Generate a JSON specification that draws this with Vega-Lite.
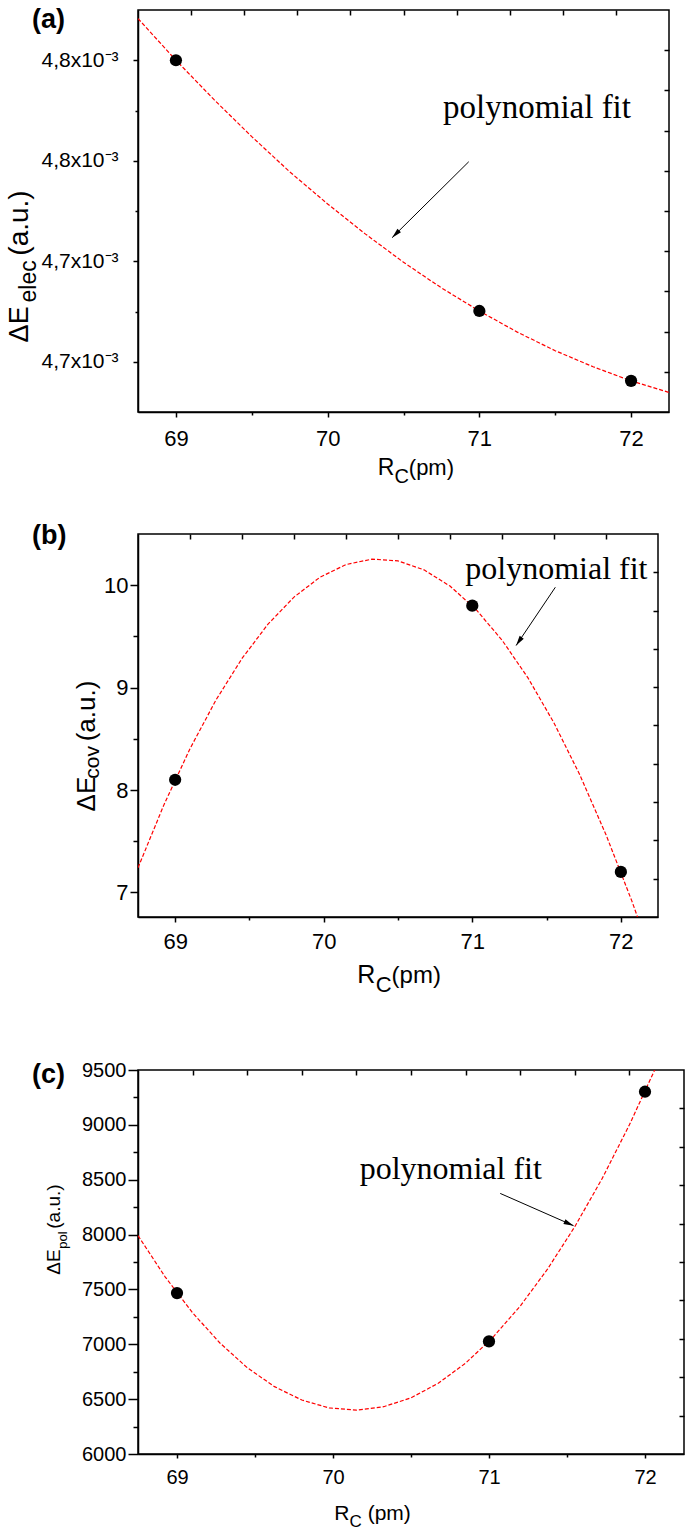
{
  "$schema": "https://vega.github.io/schema/vega-lite/v6.json",
  "background": "white",
  "padding": {"left": 5, "top": 5, "right": 0, "bottom": 0},
  "spacing": 33,
  "config": {
    "font": "Liberation Sans",
    "view": {"stroke": "black", "strokeWidth": 1.5},
    "axis": {"grid": false, "domainColor": "black", "domainWidth": 1.5, "tickColor": "black", "tickWidth": 1.5, "labelFont": "Liberation Sans", "labelColor": "black"}
  },
  "datasets": {
    "a_pts": [{"Rc": 69, "dE": 0.00478}, {"Rc": 71, "dE": 0.0047301}, {"Rc": 72, "dE": 0.0047162}],
    "a_fit": [
      {"Rc": 68.75, "dE": 0.0047883}, {"Rc": 69.0, "dE": 0.00478}, {"Rc": 69.25, "dE": 0.0047722},
      {"Rc": 69.5, "dE": 0.0047648}, {"Rc": 69.75, "dE": 0.0047578}, {"Rc": 70.0, "dE": 0.0047514},
      {"Rc": 70.25, "dE": 0.0047454}, {"Rc": 70.5, "dE": 0.0047398}, {"Rc": 70.75, "dE": 0.0047347},
      {"Rc": 71.0, "dE": 0.0047301}, {"Rc": 71.25, "dE": 0.0047259}, {"Rc": 71.5, "dE": 0.0047222},
      {"Rc": 71.75, "dE": 0.004719}, {"Rc": 72.0, "dE": 0.0047162}, {"Rc": 72.25, "dE": 0.0047139}
    ],
    "a_note": [{"Rc": 71.38, "dE": 0.0047685, "label": "polynomial fit"}],
    "a_arrow": [{"Rc": 70.93, "dE": 0.0047598, "Rc_tip": 70.425, "dE_tip": 0.0047447}],
    "b_pts": [{"Rc": 69, "dE": 8.1}, {"Rc": 71, "dE": 9.8}, {"Rc": 72, "dE": 7.2}],
    "b_fit": [
      {"Rc": 68.75, "dE": 7.2406}, {"Rc": 68.925, "dE": 7.8573}, {"Rc": 69.1, "dE": 8.4035},
      {"Rc": 69.275, "dE": 8.8793}, {"Rc": 69.45, "dE": 9.2846}, {"Rc": 69.625, "dE": 9.6195},
      {"Rc": 69.8, "dE": 9.884}, {"Rc": 69.975, "dE": 10.078}, {"Rc": 70.15, "dE": 10.2016},
      {"Rc": 70.325, "dE": 10.2548}, {"Rc": 70.5, "dE": 10.2375}, {"Rc": 70.675, "dE": 10.1498},
      {"Rc": 70.85, "dE": 9.9916}, {"Rc": 71.025, "dE": 9.763}, {"Rc": 71.2, "dE": 9.464},
      {"Rc": 71.375, "dE": 9.0945}, {"Rc": 71.55, "dE": 8.6546}, {"Rc": 71.725, "dE": 8.1443},
      {"Rc": 71.9, "dE": 7.5635}, {"Rc": 72.075, "dE": 6.9123}, {"Rc": 72.25, "dE": 6.19}
    ],
    "b_note": [{"Rc": 71.566, "dE": 10.056, "label": "polynomial fit"}],
    "b_arrow": [{"Rc": 71.559, "dE": 9.98, "Rc_tip": 71.295, "dE_tip": 9.411}],
    "c_pts": [{"Rc": 69, "dE": 7467}, {"Rc": 71, "dE": 7026}, {"Rc": 72, "dE": 9302}],
    "c_fit": [
      {"Rc": 68.75, "dE": 7990}, {"Rc": 68.925, "dE": 7613}, {"Rc": 69.1, "dE": 7287},
      {"Rc": 69.275, "dE": 7012}, {"Rc": 69.45, "dE": 6787}, {"Rc": 69.625, "dE": 6614},
      {"Rc": 69.8, "dE": 6492}, {"Rc": 69.975, "dE": 6420}, {"Rc": 70.15, "dE": 6400},
      {"Rc": 70.325, "dE": 6431}, {"Rc": 70.5, "dE": 6512}, {"Rc": 70.675, "dE": 6645},
      {"Rc": 70.85, "dE": 6828}, {"Rc": 71.025, "dE": 7063}, {"Rc": 71.2, "dE": 7348},
      {"Rc": 71.375, "dE": 7685}, {"Rc": 71.55, "dE": 8072}, {"Rc": 71.725, "dE": 8510},
      {"Rc": 71.9, "dE": 9000}, {"Rc": 72.075, "dE": 9540}
    ],
    "c_note": [{"Rc": 70.755, "dE": 8506, "label": "polynomial fit"}],
    "c_arrow": [{"Rc": 71.072, "dE": 8375, "Rc_tip": 71.542, "dE_tip": 8081}]
  },
  "vconcat": [
    {
      "width": 531,
      "height": 402,
      "resolve": {"axis": {"x": "independent", "y": "independent"}},
      "layer": [
        {
          "data": {"name": "a_fit"},
          "mark": {"type": "line", "color": "#ff0000", "strokeWidth": 1.2, "strokeDash": [4, 2], "clip": true},
          "encoding": {
            "x": {"field": "Rc", "type": "quantitative", "scale": {"domain": [68.75, 72.25], "nice": false, "zero": false},
              "axis": {"orient": "bottom", "title": null, "values": [69, 69.5, 70, 70.5, 71, 71.5, 72], "labelExpr": "datum.value % 1 == 0 ? format(datum.value, 'd') : ''", "labelFontSize": 22, "labelPadding": 11, "labelFlush": false, "labelOverlap": false, "tickSize": {"condition": {"test": "datum.value % 1 == 0", "value": 5}, "value": 3}}},
            "y": {"field": "dE", "type": "quantitative", "scale": {"domain": [0.00471, 0.00479], "nice": false, "zero": false},
              "axis": {"orient": "left", "title": null, "values": [0.00472, 0.00473, 0.00474, 0.00475, 0.00476, 0.00477, 0.00478], "labelExpr": "round(datum.value*100000) % 2 == 0 ? replace(format(datum.value*1000, '.1f'), '.', ',') + 'x10⁻³' : ''", "labelFontSize": 21, "labelPadding": 15, "labelFlush": false, "labelOverlap": false, "tickSize": {"condition": {"test": "round(datum.value*100000) % 2 == 0", "value": 5}, "value": 3}}}
          }
        },
        {
          "data": {"name": "a_pts"},
          "mark": {"type": "point", "filled": true, "color": "black", "opacity": 1, "size": 150},
          "encoding": {
            "x": {"field": "Rc", "type": "quantitative", "axis": {"orient": "top", "title": null, "labels": false, "domain": false, "offset": -5, "tickSize": 5, "values": [69.1, 69.45, 69.8, 70.15, 70.5, 70.85, 71.2, 71.55, 71.9]}},
            "y": {"field": "dE", "type": "quantitative", "axis": {"orient": "right", "title": null, "labels": false, "domain": false, "offset": -5, "tickSize": 5, "values": [0.004718, 0.004726, 0.004734, 0.004742, 0.00475, 0.004758, 0.004766, 0.004774, 0.004782]}}
          }
        },
        {
          "data": {"name": "a_arrow"},
          "mark": {"type": "rule", "color": "black", "strokeWidth": 1},
          "encoding": {"x": {"field": "Rc", "type": "quantitative", "axis": null}, "y": {"field": "dE", "type": "quantitative", "axis": null}, "x2": {"field": "Rc_tip"}, "y2": {"field": "dE_tip"}}
        },
        {
          "data": {"name": "a_arrow"},
          "mark": {"type": "point", "shape": "M0,0L-0.25,1L0.25,1Z", "filled": true, "color": "black", "opacity": 1, "size": 400, "angle": 225},
          "encoding": {"x": {"field": "Rc_tip", "type": "quantitative", "axis": null}, "y": {"field": "dE_tip", "type": "quantitative", "axis": null}}
        },
        {
          "data": {"name": "a_note"},
          "mark": {"type": "text", "font": "Liberation Serif", "fontSize": 33, "align": "center", "baseline": "alphabetic", "color": "black"},
          "encoding": {"x": {"field": "Rc", "type": "quantitative", "axis": null}, "y": {"field": "dE", "type": "quantitative", "axis": null}, "text": {"field": "label"}}
        },
        {
          "data": {"values": [{"t": "(a)"}]},
          "mark": {"type": "text", "fontWeight": "bold", "fontSize": 27, "align": "left", "baseline": "alphabetic", "dx": -106, "dy": 18, "color": "black"},
          "encoding": {"x": {"datum": 68.75, "type": "quantitative", "axis": null}, "y": {"datum": 0.00479, "type": "quantitative", "axis": null}, "text": {"field": "t"}}
        },
        {
          "data": {"values": [{"t": "R"}]},
          "mark": {"type": "text", "fontSize": 23, "align": "left", "baseline": "alphabetic", "dy": 63, "color": "black"},
          "encoding": {"x": {"datum": 70.33, "type": "quantitative", "axis": null}, "y": {"datum": 0.00471, "type": "quantitative", "axis": null}, "text": {"field": "t"}}
        },
        {
          "data": {"values": [{"t": "C"}]},
          "mark": {"type": "text", "fontSize": 20, "align": "left", "baseline": "alphabetic", "dy": 71, "color": "black"},
          "encoding": {"x": {"datum": 70.44, "type": "quantitative", "axis": null}, "y": {"datum": 0.00471, "type": "quantitative", "axis": null}, "text": {"field": "t"}}
        },
        {
          "data": {"values": [{"t": "(pm)"}]},
          "mark": {"type": "text", "fontSize": 22, "align": "left", "baseline": "alphabetic", "dy": 63, "color": "black"},
          "encoding": {"x": {"datum": 70.535, "type": "quantitative", "axis": null}, "y": {"datum": 0.00471, "type": "quantitative", "axis": null}, "text": {"field": "t"}}
        },
        {
          "data": {"values": [{"t": "ΔE"}]},
          "mark": {"type": "text", "fontSize": 27, "angle": 270, "align": "left", "baseline": "alphabetic", "dy": -110, "color": "black"},
          "encoding": {"x": {"datum": 68.75, "type": "quantitative", "axis": null}, "y": {"datum": 0.00472385, "type": "quantitative", "axis": null}, "text": {"field": "t"}}
        },
        {
          "data": {"values": [{"t": "elec"}]},
          "mark": {"type": "text", "fontSize": 23, "angle": 270, "align": "left", "baseline": "alphabetic", "dy": -102, "color": "black"},
          "encoding": {"x": {"datum": 68.75, "type": "quantitative", "axis": null}, "y": {"datum": 0.00473179, "type": "quantitative", "axis": null}, "text": {"field": "t"}}
        },
        {
          "data": {"values": [{"t": "(a.u.)"}]},
          "mark": {"type": "text", "fontSize": 28, "angle": 270, "align": "left", "baseline": "alphabetic", "dy": -110, "color": "black"},
          "encoding": {"x": {"datum": 68.75, "type": "quantitative", "axis": null}, "y": {"datum": 0.00474111, "type": "quantitative", "axis": null}, "text": {"field": "t"}}
        }
      ]
    },
    {
      "spacing": 62,
      "vconcat": [
        {
          "width": 520,
          "height": 383,
          "resolve": {"axis": {"x": "independent", "y": "independent"}},
          "layer": [
            {
              "data": {"name": "b_fit"},
              "mark": {"type": "line", "color": "#ff0000", "strokeWidth": 1.2, "strokeDash": [4, 2], "clip": true},
              "encoding": {
                "x": {"field": "Rc", "type": "quantitative", "scale": {"domain": [68.75, 72.25], "nice": false, "zero": false},
                  "axis": {"orient": "bottom", "title": null, "values": [69, 69.5, 70, 70.5, 71, 71.5, 72], "labelExpr": "datum.value % 1 == 0 ? format(datum.value, 'd') : ''", "labelFontSize": 22, "labelPadding": 9, "labelFlush": false, "labelOverlap": false, "tickSize": {"condition": {"test": "datum.value % 1 == 0", "value": 5}, "value": 3}}},
                "y": {"field": "dE", "type": "quantitative", "scale": {"domain": [6.76, 10.5], "nice": false, "zero": false},
                  "axis": {"orient": "left", "title": null, "values": [7, 7.5, 8, 8.5, 9, 9.5, 10], "labelExpr": "datum.value % 1 == 0 ? format(datum.value, 'd') : ''", "labelFontSize": 22, "labelPadding": 2, "labelFlush": false, "labelOverlap": false, "tickSize": {"condition": {"test": "datum.value % 1 == 0", "value": 8}, "value": 5}}}
              }
            },
            {
              "data": {"name": "b_pts"},
              "mark": {"type": "point", "filled": true, "color": "black", "opacity": 1, "size": 150},
              "encoding": {
                "x": {"field": "Rc", "type": "quantitative", "axis": {"orient": "top", "title": null, "labels": false, "domain": false, "offset": -5, "tickSize": 5, "values": [69.1, 69.45, 69.8, 70.15, 70.5, 70.85, 71.2, 71.55, 71.9]}},
                "y": {"field": "dE", "type": "quantitative", "axis": {"orient": "right", "title": null, "labels": false, "domain": false, "offset": -5, "tickSize": 5, "values": [7.134, 7.508, 7.882, 8.256, 8.63, 9.004, 9.378, 9.752, 10.126]}}
              }
            },
            {
              "data": {"name": "b_arrow"},
              "mark": {"type": "rule", "color": "black", "strokeWidth": 1},
              "encoding": {"x": {"field": "Rc", "type": "quantitative", "axis": null}, "y": {"field": "dE", "type": "quantitative", "axis": null}, "x2": {"field": "Rc_tip"}, "y2": {"field": "dE_tip"}}
            },
            {
              "data": {"name": "b_arrow"},
              "mark": {"type": "point", "shape": "M0,0L-0.25,1L0.25,1Z", "filled": true, "color": "black", "opacity": 1, "size": 400, "angle": 214},
              "encoding": {"x": {"field": "Rc_tip", "type": "quantitative", "axis": null}, "y": {"field": "dE_tip", "type": "quantitative", "axis": null}}
            },
            {
              "data": {"name": "b_note"},
              "mark": {"type": "text", "font": "Liberation Serif", "fontSize": 32, "align": "center", "baseline": "alphabetic", "color": "black"},
              "encoding": {"x": {"field": "Rc", "type": "quantitative", "axis": null}, "y": {"field": "dE", "type": "quantitative", "axis": null}, "text": {"field": "label"}}
            },
            {
              "data": {"values": [{"t": "(b)"}]},
              "mark": {"type": "text", "fontWeight": "bold", "fontSize": 27, "align": "left", "baseline": "alphabetic", "dx": -106, "dy": 10, "color": "black"},
              "encoding": {"x": {"datum": 68.75, "type": "quantitative", "axis": null}, "y": {"datum": 10.5, "type": "quantitative", "axis": null}, "text": {"field": "t"}}
            },
            {
              "data": {"values": [{"t": "R"}]},
              "mark": {"type": "text", "fontSize": 25, "align": "left", "baseline": "alphabetic", "dy": 66, "color": "black"},
              "encoding": {"x": {"datum": 70.225, "type": "quantitative", "axis": null}, "y": {"datum": 6.76, "type": "quantitative", "axis": null}, "text": {"field": "t"}}
            },
            {
              "data": {"values": [{"t": "C"}]},
              "mark": {"type": "text", "fontSize": 22, "align": "left", "baseline": "alphabetic", "dy": 75, "color": "black"},
              "encoding": {"x": {"datum": 70.35, "type": "quantitative", "axis": null}, "y": {"datum": 6.76, "type": "quantitative", "axis": null}, "text": {"field": "t"}}
            },
            {
              "data": {"values": [{"t": "(pm)"}]},
              "mark": {"type": "text", "fontSize": 24, "align": "left", "baseline": "alphabetic", "dy": 66, "color": "black"},
              "encoding": {"x": {"datum": 70.457, "type": "quantitative", "axis": null}, "y": {"datum": 6.76, "type": "quantitative", "axis": null}, "text": {"field": "t"}}
            },
            {
              "data": {"values": [{"t": "ΔE"}]},
              "mark": {"type": "text", "fontSize": 26, "angle": 270, "align": "left", "baseline": "alphabetic", "dy": -43, "color": "black"},
              "encoding": {"x": {"datum": 68.75, "type": "quantitative", "axis": null}, "y": {"datum": 7.791, "type": "quantitative", "axis": null}, "text": {"field": "t"}}
            },
            {
              "data": {"values": [{"t": "cov"}]},
              "mark": {"type": "text", "fontSize": 21, "angle": 270, "align": "left", "baseline": "alphabetic", "dy": -39, "color": "black"},
              "encoding": {"x": {"datum": 68.75, "type": "quantitative", "axis": null}, "y": {"datum": 8.11, "type": "quantitative", "axis": null}, "text": {"field": "t"}}
            },
            {
              "data": {"values": [{"t": "(a.u.)"}]},
              "mark": {"type": "text", "fontSize": 26, "angle": 270, "align": "left", "baseline": "alphabetic", "dy": -43, "color": "black"},
              "encoding": {"x": {"datum": 68.75, "type": "quantitative", "axis": null}, "y": {"datum": 8.475, "type": "quantitative", "axis": null}, "text": {"field": "t"}}
            }
          ]
        },
        {
          "width": 546,
          "height": 384,
          "resolve": {"axis": {"x": "independent", "y": "independent"}},
          "layer": [
            {
              "data": {"name": "c_fit"},
              "mark": {"type": "line", "color": "#ff0000", "strokeWidth": 1.2, "strokeDash": [4, 2], "clip": true},
              "encoding": {
                "x": {"field": "Rc", "type": "quantitative", "scale": {"domain": [68.75, 72.25], "nice": false, "zero": false},
                  "axis": {"orient": "bottom", "title": null, "values": [69, 69.5, 70, 70.5, 71, 71.5, 72], "labelExpr": "datum.value % 1 == 0 ? format(datum.value, 'd') : ''", "labelFontSize": 20, "labelPadding": 9, "labelFlush": false, "labelOverlap": false, "tickSize": {"condition": {"test": "datum.value % 1 == 0", "value": 4}, "value": 3}}},
                "y": {"field": "dE", "type": "quantitative", "scale": {"domain": [6000, 9500], "nice": false, "zero": false},
                  "axis": {"orient": "left", "title": null, "values": [6000, 6250, 6500, 6750, 7000, 7250, 7500, 7750, 8000, 8250, 8500, 8750, 9000, 9250, 9500], "labelExpr": "datum.value % 500 == 0 ? format(datum.value, 'd') : ''", "labelFontSize": 20, "labelPadding": 2, "labelFlush": false, "labelOverlap": false, "tickSize": {"condition": {"test": "datum.value % 500 == 0", "value": 10}, "value": 5}}}
              }
            },
            {
              "data": {"name": "c_pts"},
              "mark": {"type": "point", "filled": true, "color": "black", "opacity": 1, "size": 150},
              "encoding": {
                "x": {"field": "Rc", "type": "quantitative", "axis": {"orient": "top", "title": null, "labels": false, "domain": false, "offset": -5, "tickSize": 5, "values": [69.1, 69.45, 69.8, 70.15, 70.5, 70.85, 71.2, 71.55, 71.9]}},
                "y": {"field": "dE", "type": "quantitative", "axis": {"orient": "right", "title": null, "labels": false, "domain": false, "offset": -5, "tickSize": 5, "values": [6350, 6700, 7050, 7400, 7750, 8100, 8450, 8800, 9150]}}
              }
            },
            {
              "data": {"name": "c_arrow"},
              "mark": {"type": "rule", "color": "black", "strokeWidth": 1},
              "encoding": {"x": {"field": "Rc", "type": "quantitative", "axis": null}, "y": {"field": "dE", "type": "quantitative", "axis": null}, "x2": {"field": "Rc_tip"}, "y2": {"field": "dE_tip"}}
            },
            {
              "data": {"name": "c_arrow"},
              "mark": {"type": "point", "shape": "M0,0L-0.25,1L0.25,1Z", "filled": true, "color": "black", "opacity": 1, "size": 400, "angle": 114},
              "encoding": {"x": {"field": "Rc_tip", "type": "quantitative", "axis": null}, "y": {"field": "dE_tip", "type": "quantitative", "axis": null}}
            },
            {
              "data": {"name": "c_note"},
              "mark": {"type": "text", "font": "Liberation Serif", "fontSize": 32, "align": "center", "baseline": "alphabetic", "color": "black"},
              "encoding": {"x": {"field": "Rc", "type": "quantitative", "axis": null}, "y": {"field": "dE", "type": "quantitative", "axis": null}, "text": {"field": "label"}}
            },
            {
              "data": {"values": [{"t": "(c)"}]},
              "mark": {"type": "text", "fontWeight": "bold", "fontSize": 27, "align": "left", "baseline": "alphabetic", "dx": -106, "dy": 13, "color": "black"},
              "encoding": {"x": {"datum": 68.75, "type": "quantitative", "axis": null}, "y": {"datum": 9500, "type": "quantitative", "axis": null}, "text": {"field": "t"}}
            },
            {
              "data": {"values": [{"t": "R"}]},
              "mark": {"type": "text", "fontSize": 21, "align": "left", "baseline": "alphabetic", "dy": 66, "color": "black"},
              "encoding": {"x": {"datum": 70.008, "type": "quantitative", "axis": null}, "y": {"datum": 6000, "type": "quantitative", "axis": null}, "text": {"field": "t"}}
            },
            {
              "data": {"values": [{"t": "C"}]},
              "mark": {"type": "text", "fontSize": 17, "align": "left", "baseline": "alphabetic", "dy": 73, "color": "black"},
              "encoding": {"x": {"datum": 70.105, "type": "quantitative", "axis": null}, "y": {"datum": 6000, "type": "quantitative", "axis": null}, "text": {"field": "t"}}
            },
            {
              "data": {"values": [{"t": "(pm)"}]},
              "mark": {"type": "text", "fontSize": 21, "align": "left", "baseline": "alphabetic", "dy": 66, "color": "black"},
              "encoding": {"x": {"datum": 70.222, "type": "quantitative", "axis": null}, "y": {"datum": 6000, "type": "quantitative", "axis": null}, "text": {"field": "t"}}
            },
            {
              "data": {"values": [{"t": "ΔE"}]},
              "mark": {"type": "text", "fontSize": 19, "angle": 270, "align": "left", "baseline": "alphabetic", "dy": -78, "color": "black"},
              "encoding": {"x": {"datum": 68.75, "type": "quantitative", "axis": null}, "y": {"datum": 7634, "type": "quantitative", "axis": null}, "text": {"field": "t"}}
            },
            {
              "data": {"values": [{"t": "pol"}]},
              "mark": {"type": "text", "fontSize": 13, "angle": 270, "align": "left", "baseline": "alphabetic", "dy": -71, "color": "black"},
              "encoding": {"x": {"datum": 68.75, "type": "quantitative", "axis": null}, "y": {"datum": 7871, "type": "quantitative", "axis": null}, "text": {"field": "t"}}
            },
            {
              "data": {"values": [{"t": "(a.u.)"}]},
              "mark": {"type": "text", "fontSize": 19, "angle": 270, "align": "left", "baseline": "alphabetic", "dy": -78, "color": "black"},
              "encoding": {"x": {"datum": 68.75, "type": "quantitative", "axis": null}, "y": {"datum": 8053, "type": "quantitative", "axis": null}, "text": {"field": "t"}}
            }
          ]
        }
      ]
    }
  ]
}
